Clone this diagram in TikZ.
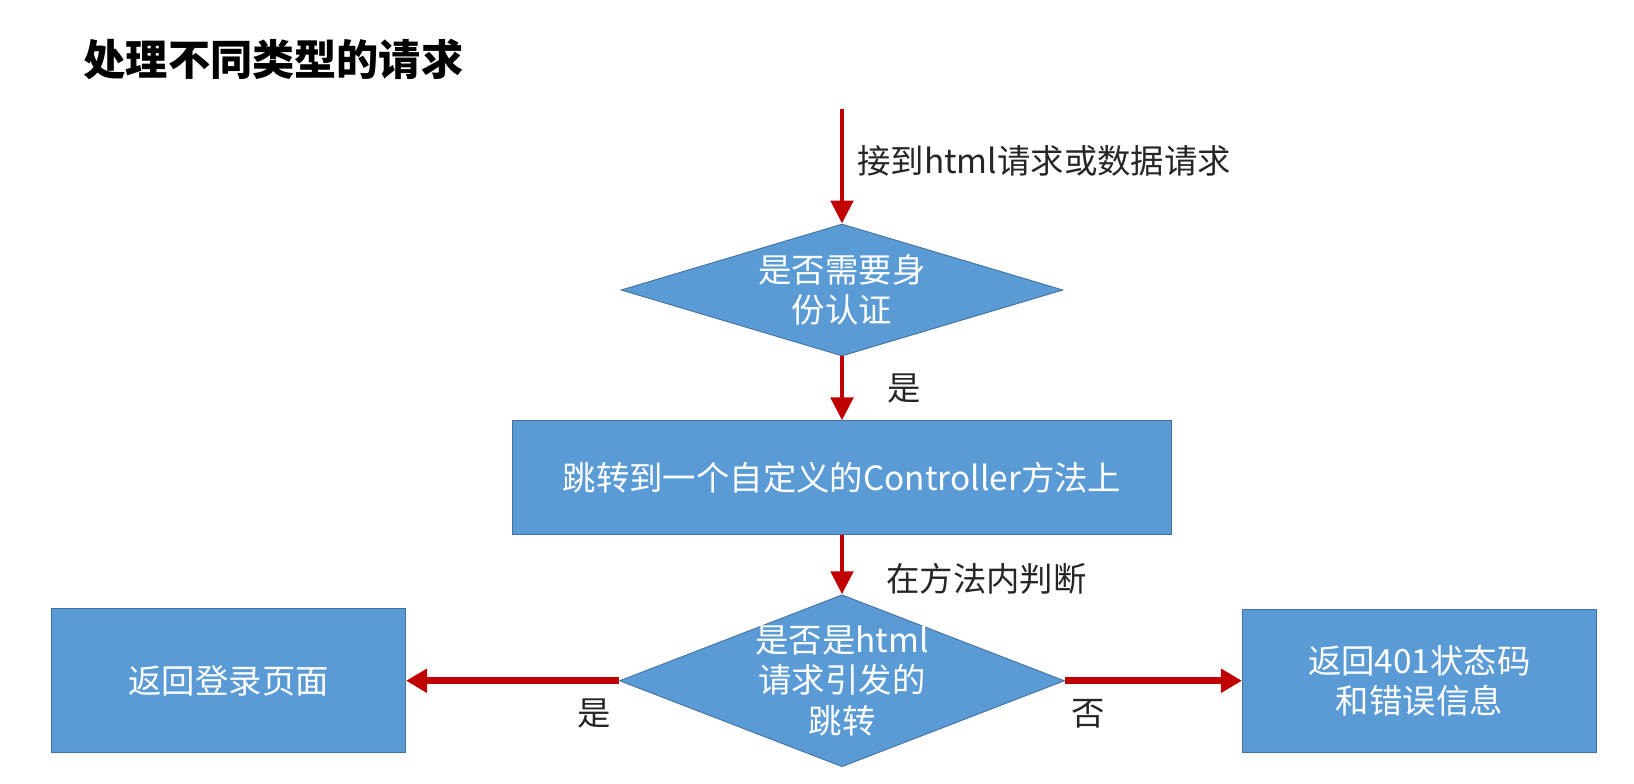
\documentclass[tikz,border=0pt]{standalone}
\usepackage{fontspec}
\setmainfont{Noto Sans CJK SC}
\usetikzlibrary{shapes.geometric, arrows.meta, positioning}
\definecolor{boxblue}{HTML}{5B9BD5}
\definecolor{boxline}{HTML}{41719C}
\definecolor{arrowred}{HTML}{C00000}
\definecolor{labelgray}{HTML}{262626}

\begin{document}
\begin{tikzpicture}[
    every node/.style={font=\fontsize{19}{23}\selectfont},
    process/.style={rectangle, draw=boxline, line width=0.5pt, fill=boxblue, text=white, align=center, inner sep=0pt},
    decision/.style={diamond, draw=boxline, line width=0.5pt, fill=boxblue, inner sep=0pt},
    inside/.style={text=white, align=center},
    note/.style={text=labelgray},
    arrow/.style={-{Triangle[width=0.44cm, length=0.46cm]}, line width=2.8pt, arrowred},
    sidearrow/.style={-{Triangle[width=0.46cm, length=0.42cm]}, line width=4pt, arrowred}
]
\useasboundingbox (0,0) rectangle (32.68,-15.68);

\node (title) [anchor=west, font=\fontsize{24}{29}\selectfont\bfseries] at (1.55,-1.18) {处理不同类型的请求};
\coordinate (entry) at (16.84,-2.18);
\node (auth) [decision, minimum width=8.84cm, minimum height=2.64cm, label={[inside]center:{是否需要身\\份认证}}] at (16.84,-5.80) {};
\node (redirect) [process, minimum width=13.18cm, minimum height=2.28cm, below=1.28cm of auth] {跳转到一个自定义的Controller方法上};
\node (ishtml) [decision, minimum width=8.9cm, minimum height=3.44cm, below=1.18cm of redirect, label={[inside]center:{是否是html\\请求引发的\\跳转}}] {};
\node (login) [process, minimum width=7.08cm, minimum height=2.88cm, left=4.26cm of ishtml] {返回登录页面};
\node (status) [process, minimum width=7.08cm, minimum height=2.86cm, right=3.54cm of ishtml] {返回401状态码\\和错误信息};

\draw [arrow] (entry) -- node[note, right=0.14cm, pos=0.45] {接到html请求或数据请求} (auth);
\draw [arrow] (auth) -- node[note, right=0.74cm] {是} (redirect);
\draw [arrow] (redirect) -- node[note, right=0.72cm, pos=0.73] {在方法内判断} (ishtml);
\draw [sidearrow] (ishtml) -- node[note, below=0.18cm, pos=0.115] {是} (login);
\draw [sidearrow] (ishtml) -- node[note, below=0.18cm, pos=0.133] {否} (status);
\end{tikzpicture}
\end{document}
